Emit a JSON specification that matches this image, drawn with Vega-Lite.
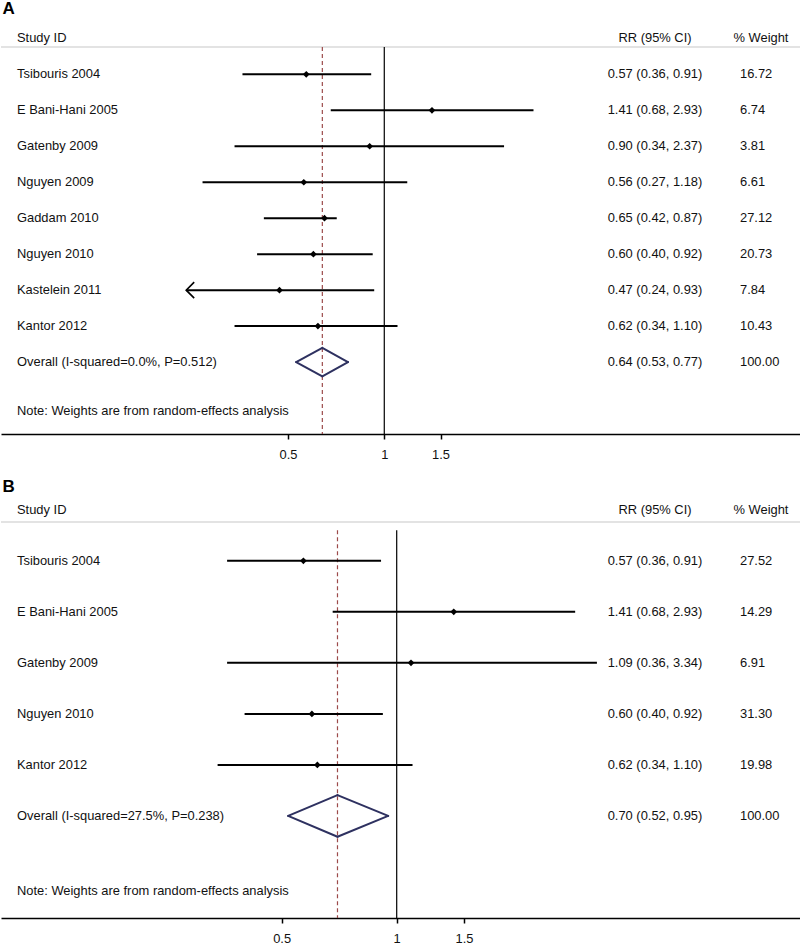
{
  "$schema": "https://vega.github.io/schema/vega-lite/v6.json",
  "padding": {"top": 0, "left": 0, "right": 0, "bottom": 0},
  "background": "white",
  "spacing": 17,
  "config": {"view": {"stroke": null}, "font": "Liberation Sans"},
  "datasets": {
    "a": [
      {"row": 1, "study": "Tsibouris 2004", "type": "study", "est": 0.57, "lower": 0.36, "upper": 0.91, "rr": "0.57 (0.36, 0.91)", "weight": "16.72"},
      {"row": 2, "study": "E Bani-Hani 2005", "type": "study", "est": 1.41, "lower": 0.68, "upper": 2.93, "rr": "1.41 (0.68, 2.93)", "weight": "6.74"},
      {"row": 3, "study": "Gatenby 2009", "type": "study", "est": 0.90, "lower": 0.34, "upper": 2.37, "rr": "0.90 (0.34, 2.37)", "weight": "3.81"},
      {"row": 4, "study": "Nguyen 2009", "type": "study", "est": 0.56, "lower": 0.27, "upper": 1.18, "rr": "0.56 (0.27, 1.18)", "weight": "6.61"},
      {"row": 5, "study": "Gaddam 2010", "type": "study", "est": 0.65, "lower": 0.42, "upper": 0.71, "rr": "0.65 (0.42, 0.87)", "weight": "27.12"},
      {"row": 6, "study": "Nguyen 2010", "type": "study", "est": 0.60, "lower": 0.40, "upper": 0.92, "rr": "0.60 (0.40, 0.92)", "weight": "20.73"},
      {"row": 7, "study": "Kastelein 2011", "type": "study", "est": 0.47, "lower": 0.24, "upper": 0.93, "rr": "0.47 (0.24, 0.93)", "weight": "7.84"},
      {"row": 8, "study": "Kantor 2012", "type": "study", "est": 0.62, "lower": 0.34, "upper": 1.10, "rr": "0.62 (0.34, 1.10)", "weight": "10.43"},
      {"row": 9, "study": "Overall (I-squared=0.0%, P=0.512)", "type": "overall", "est": 0.64, "lower": 0.53, "upper": 0.77, "rr": "0.64 (0.53, 0.77)", "weight": "100.00"}
    ],
    "b": [
      {"row": 1, "study": "Tsibouris 2004", "type": "study", "est": 0.57, "lower": 0.36, "upper": 0.91, "rr": "0.57 (0.36, 0.91)", "weight": "27.52"},
      {"row": 2, "study": "E Bani-Hani 2005", "type": "study", "est": 1.41, "lower": 0.68, "upper": 2.93, "rr": "1.41 (0.68, 2.93)", "weight": "14.29"},
      {"row": 3, "study": "Gatenby 2009", "type": "study", "est": 1.09, "lower": 0.36, "upper": 3.34, "rr": "1.09 (0.36, 3.34)", "weight": "6.91"},
      {"row": 4, "study": "Nguyen 2010", "type": "study", "est": 0.60, "lower": 0.40, "upper": 0.92, "rr": "0.60 (0.40, 0.92)", "weight": "31.30"},
      {"row": 5, "study": "Kantor 2012", "type": "study", "est": 0.62, "lower": 0.34, "upper": 1.10, "rr": "0.62 (0.34, 1.10)", "weight": "19.98"},
      {"row": 6, "study": "Overall (I-squared=27.5%, P=0.238)", "type": "overall", "est": 0.70, "lower": 0.52, "upper": 0.95, "rr": "0.70 (0.52, 0.95)", "weight": "100.00"}
    ]
  },
  "vconcat": [
    {
      "title": {"text": "A", "anchor": "start", "fontSize": 17, "fontWeight": "bold", "font": "Liberation Sans", "color": "#000", "offset": 14, "dx": 2},
      "width": 800,
      "height": 387,
      "data": {"name": "a"},
      "layer": [
        {
          "data": {"values": [{}]},
          "mark": {"type": "rule", "color": "#c8c8c8", "strokeWidth": 1.2},
          "encoding": {"y": {"datum": 0.24, "type": "quantitative", "scale": {"domain": [0.24, 11], "reverse": true, "nice": false, "zero": false}, "axis": null}}
        },
        {
          "data": {"values": [{}]},
          "mark": {"type": "rule", "color": "#000", "strokeWidth": 1.2},
          "encoding": {"x": {"datum": 1, "type": "quantitative", "scale": {"type": "log", "domain": [0.06321, 20.13], "nice": false}}}
        },
        {
          "transform": [{"filter": "datum.type === 'overall'"}],
          "mark": {"type": "rule", "color": "#9c4a4a", "strokeWidth": 1.2, "strokeDash": [4, 3]},
          "encoding": {"x": {"field": "est", "type": "quantitative", "scale": {"type": "log", "domain": [0.06321, 20.13], "nice": false}}}
        },
        {
          "transform": [{"filter": "datum.type === 'study'"}],
          "mark": {"type": "rule", "color": "#000", "strokeWidth": 2},
          "encoding": {
            "x": {"field": "lower", "type": "quantitative", "scale": {"type": "log", "domain": [0.06321, 20.13], "nice": false},
              "axis": {"values": [0.5, 1, 1.5], "format": "~g", "grid": false, "title": null, "domainColor": "#000", "domainWidth": 1.6, "tickColor": "#000", "tickWidth": 1.5, "tickSize": 5, "labelFont": "Liberation Sans", "labelFontSize": 12.9, "labelColor": "#111", "labelPadding": 9, "labelFlush": false, "labelOverlap": false}},
            "x2": {"field": "upper"},
            "y": {"field": "row", "type": "quantitative"}
          }
        },
        {
          "transform": [{"filter": "datum.type === 'study'"}],
          "mark": {"type": "point", "shape": "diamond", "filled": true, "color": "#000", "size": 45, "opacity": 1},
          "encoding": {
            "x": {"field": "est", "type": "quantitative"},
            "y": {"field": "row", "type": "quantitative"}
          }
        },
        {
          "transform": [{"filter": "datum.type === 'study' && datum.lower <= 0.24"}],
          "mark": {"type": "point", "shape": "M1,-1L0,0L1,1", "filled": false, "stroke": "#000", "strokeWidth": 1.6, "size": 256, "opacity": 1},
          "encoding": {
            "x": {"field": "lower", "type": "quantitative"},
            "y": {"field": "row", "type": "quantitative"}
          }
        },
        {
          "transform": [{"filter": "datum.type === 'overall'"}],
          "mark": {"type": "rule", "color": "#2e3160", "strokeWidth": 2, "strokeCap": "round", "y2Offset": -14.2},
          "encoding": {"x": {"field": "lower", "type": "quantitative"}, "x2": {"field": "est"}, "y": {"field": "row", "type": "quantitative"}, "y2": {"field": "row"}}
        },
        {
          "transform": [{"filter": "datum.type === 'overall'"}],
          "mark": {"type": "rule", "color": "#2e3160", "strokeWidth": 2, "strokeCap": "round", "yOffset": -14.2},
          "encoding": {"x": {"field": "est", "type": "quantitative"}, "x2": {"field": "upper"}, "y": {"field": "row", "type": "quantitative"}, "y2": {"field": "row"}}
        },
        {
          "transform": [{"filter": "datum.type === 'overall'"}],
          "mark": {"type": "rule", "color": "#2e3160", "strokeWidth": 2, "strokeCap": "round", "y2Offset": 14.2},
          "encoding": {"x": {"field": "lower", "type": "quantitative"}, "x2": {"field": "est"}, "y": {"field": "row", "type": "quantitative"}, "y2": {"field": "row"}}
        },
        {
          "transform": [{"filter": "datum.type === 'overall'"}],
          "mark": {"type": "rule", "color": "#2e3160", "strokeWidth": 2, "strokeCap": "round", "yOffset": 14.2},
          "encoding": {"x": {"field": "est", "type": "quantitative"}, "x2": {"field": "upper"}, "y": {"field": "row", "type": "quantitative"}, "y2": {"field": "row"}}
        },
        {
          "mark": {"type": "text", "align": "left", "baseline": "middle", "font": "Liberation Sans", "fontSize": 12.9, "color": "#111"},
          "encoding": {"x": {"value": 16}, "y": {"field": "row", "type": "quantitative"}, "text": {"field": "study"}}
        },
        {
          "mark": {"type": "text", "align": "center", "baseline": "middle", "font": "Liberation Sans", "fontSize": 12.9, "color": "#111"},
          "encoding": {"x": {"value": 654}, "y": {"field": "row", "type": "quantitative"}, "text": {"field": "rr"}}
        },
        {
          "mark": {"type": "text", "align": "left", "baseline": "middle", "font": "Liberation Sans", "fontSize": 12.9, "color": "#111"},
          "encoding": {"x": {"value": 739}, "y": {"field": "row", "type": "quantitative"}, "text": {"field": "weight"}}
        },
        {
          "data": {"values": [{"row": 0, "study": "Study ID", "rr": "RR (95% CI)", "weight": "% Weight", "note": "Note: Weights are from random-effects analysis"}]},
          "layer": [
            {"mark": {"type": "text", "align": "left", "baseline": "middle", "font": "Liberation Sans", "fontSize": 12.9, "color": "#111"},
             "encoding": {"x": {"value": 16}, "y": {"field": "row", "type": "quantitative"}, "text": {"field": "study"}}},
            {"mark": {"type": "text", "align": "center", "baseline": "middle", "font": "Liberation Sans", "fontSize": 12.9, "color": "#111"},
             "encoding": {"x": {"value": 654}, "y": {"field": "row", "type": "quantitative"}, "text": {"field": "rr"}}},
            {"mark": {"type": "text", "align": "left", "baseline": "middle", "font": "Liberation Sans", "fontSize": 12.9, "color": "#111"},
             "encoding": {"x": {"value": 732.5}, "y": {"field": "row", "type": "quantitative"}, "text": {"field": "weight"}}},
            {"mark": {"type": "text", "align": "left", "baseline": "middle", "font": "Liberation Sans", "fontSize": 12.9, "color": "#111"},
             "encoding": {"x": {"value": 16}, "y": {"datum": 10.36, "type": "quantitative"}, "text": {"field": "note"}}}
          ]
        }
      ]
    },
    {
      "title": {"text": "B", "anchor": "start", "fontSize": 17, "fontWeight": "bold", "font": "Liberation Sans", "color": "#000", "offset": 7.7, "dx": 2},
      "width": 800,
      "height": 396,
      "data": {"name": "b"},
      "layer": [
        {
          "data": {"values": [{}]},
          "mark": {"type": "rule", "color": "#c8c8c8", "strokeWidth": 1.2},
          "encoding": {"y": {"datum": 0.24, "type": "quantitative", "scale": {"domain": [0.24, 8], "reverse": true, "nice": false, "zero": false}, "axis": null}}
        },
        {
          "data": {"values": [{}]},
          "mark": {"type": "rule", "color": "#000", "strokeWidth": 1.2},
          "encoding": {"x": {"datum": 1, "type": "quantitative", "scale": {"type": "log", "domain": [0.09222, 11.42], "nice": false}}, "y": {"datum": 0.4, "type": "quantitative"}, "y2": {"datum": 8}}
        },
        {
          "transform": [{"filter": "datum.type === 'overall'"}],
          "mark": {"type": "rule", "color": "#9c4a4a", "strokeWidth": 1.2, "strokeDash": [4, 3]},
          "encoding": {"x": {"field": "est", "type": "quantitative", "scale": {"type": "log", "domain": [0.09222, 11.42], "nice": false}}, "y": {"datum": 0.4, "type": "quantitative"}, "y2": {"datum": 8}}
        },
        {
          "transform": [{"filter": "datum.type === 'study'"}],
          "mark": {"type": "rule", "color": "#000", "strokeWidth": 2},
          "encoding": {
            "x": {"field": "lower", "type": "quantitative", "scale": {"type": "log", "domain": [0.09222, 11.42], "nice": false},
              "axis": {"values": [0.5, 1, 1.5], "format": "~g", "grid": false, "title": null, "domainColor": "#000", "domainWidth": 1.6, "tickColor": "#000", "tickWidth": 1.5, "tickSize": 5, "labelFont": "Liberation Sans", "labelFontSize": 12.9, "labelColor": "#111", "labelPadding": 9, "labelFlush": false, "labelOverlap": false}},
            "x2": {"field": "upper"},
            "y": {"field": "row", "type": "quantitative"}
          }
        },
        {
          "transform": [{"filter": "datum.type === 'study'"}],
          "mark": {"type": "point", "shape": "diamond", "filled": true, "color": "#000", "size": 45, "opacity": 1},
          "encoding": {
            "x": {"field": "est", "type": "quantitative"},
            "y": {"field": "row", "type": "quantitative"}
          }
        },
        {
          "transform": [{"filter": "datum.type === 'overall'"}],
          "mark": {"type": "rule", "color": "#2e3160", "strokeWidth": 2, "strokeCap": "round", "y2Offset": -20.8},
          "encoding": {"x": {"field": "lower", "type": "quantitative"}, "x2": {"field": "est"}, "y": {"field": "row", "type": "quantitative"}, "y2": {"field": "row"}}
        },
        {
          "transform": [{"filter": "datum.type === 'overall'"}],
          "mark": {"type": "rule", "color": "#2e3160", "strokeWidth": 2, "strokeCap": "round", "yOffset": -20.8},
          "encoding": {"x": {"field": "est", "type": "quantitative"}, "x2": {"field": "upper"}, "y": {"field": "row", "type": "quantitative"}, "y2": {"field": "row"}}
        },
        {
          "transform": [{"filter": "datum.type === 'overall'"}],
          "mark": {"type": "rule", "color": "#2e3160", "strokeWidth": 2, "strokeCap": "round", "y2Offset": 20.8},
          "encoding": {"x": {"field": "lower", "type": "quantitative"}, "x2": {"field": "est"}, "y": {"field": "row", "type": "quantitative"}, "y2": {"field": "row"}}
        },
        {
          "transform": [{"filter": "datum.type === 'overall'"}],
          "mark": {"type": "rule", "color": "#2e3160", "strokeWidth": 2, "strokeCap": "round", "yOffset": 20.8},
          "encoding": {"x": {"field": "est", "type": "quantitative"}, "x2": {"field": "upper"}, "y": {"field": "row", "type": "quantitative"}, "y2": {"field": "row"}}
        },
        {
          "mark": {"type": "text", "align": "left", "baseline": "middle", "font": "Liberation Sans", "fontSize": 12.9, "color": "#111"},
          "encoding": {"x": {"value": 16}, "y": {"field": "row", "type": "quantitative"}, "text": {"field": "study"}}
        },
        {
          "mark": {"type": "text", "align": "center", "baseline": "middle", "font": "Liberation Sans", "fontSize": 12.9, "color": "#111"},
          "encoding": {"x": {"value": 654}, "y": {"field": "row", "type": "quantitative"}, "text": {"field": "rr"}}
        },
        {
          "mark": {"type": "text", "align": "left", "baseline": "middle", "font": "Liberation Sans", "fontSize": 12.9, "color": "#111"},
          "encoding": {"x": {"value": 739}, "y": {"field": "row", "type": "quantitative"}, "text": {"field": "weight"}}
        },
        {
          "data": {"values": [{"row": 0, "study": "Study ID", "rr": "RR (95% CI)", "weight": "% Weight", "note": "Note: Weights are from random-effects analysis"}]},
          "layer": [
            {"mark": {"type": "text", "align": "left", "baseline": "middle", "font": "Liberation Sans", "fontSize": 12.9, "color": "#111"},
             "encoding": {"x": {"value": 16}, "y": {"field": "row", "type": "quantitative"}, "text": {"field": "study"}}},
            {"mark": {"type": "text", "align": "center", "baseline": "middle", "font": "Liberation Sans", "fontSize": 12.9, "color": "#111"},
             "encoding": {"x": {"value": 654}, "y": {"field": "row", "type": "quantitative"}, "text": {"field": "rr"}}},
            {"mark": {"type": "text", "align": "left", "baseline": "middle", "font": "Liberation Sans", "fontSize": 12.9, "color": "#111"},
             "encoding": {"x": {"value": 732.5}, "y": {"field": "row", "type": "quantitative"}, "text": {"field": "weight"}}},
            {"mark": {"type": "text", "align": "left", "baseline": "middle", "font": "Liberation Sans", "fontSize": 12.9, "color": "#111"},
             "encoding": {"x": {"value": 16}, "y": {"datum": 7.47, "type": "quantitative"}, "text": {"field": "note"}}}
          ]
        }
      ]
    }
  ]
}
